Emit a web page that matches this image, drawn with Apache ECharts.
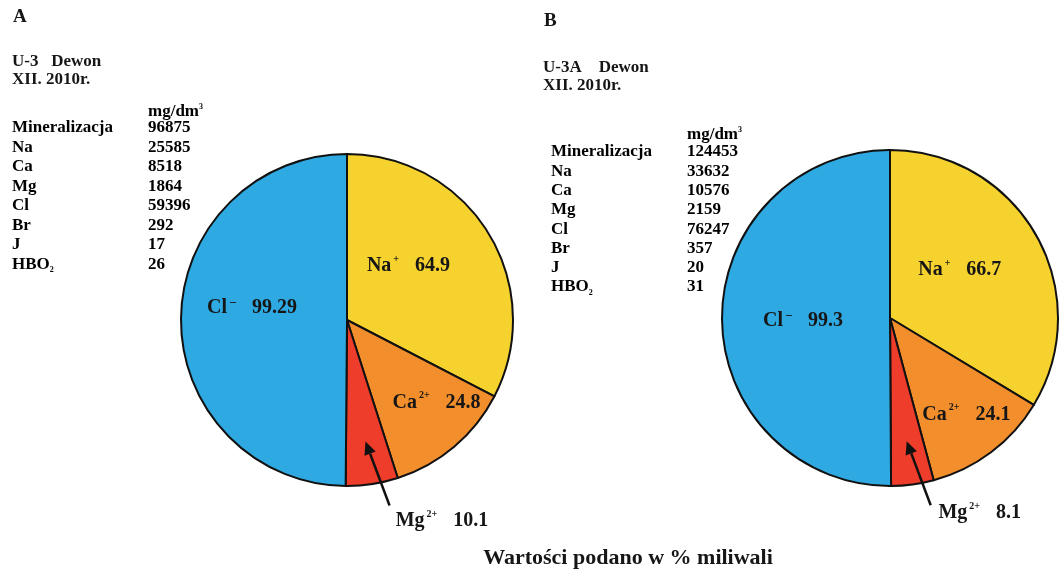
<!DOCTYPE html>
<html>
<head>
<meta charset="utf-8">
<script src="https://cdn.jsdelivr.net/npm/echarts@6/dist/echarts.min.js"></script>
<style>
  html, body { margin: 0; padding: 0; background: #ffffff; }
  #chart { width: 1059px; height: 571px; }
</style>
</head>
<body>
<div id="chart"></div>
<script>
// Ion composition (% milliequivalents) for the two wells
const ions = ['Na', 'Ca', 'Mg', 'Cl'];
const charges = ['+', '2+', '2+', '–'];
const milliValA = [64.9, 24.8, 10.1, 99.29];
const milliValB = [66.7, 24.1, 8.1, 99.3];

// Chemical analysis tables (mg/dm3)
const paramNames = ['Mineralizacja', 'Na', 'Ca', 'Mg', 'Cl', 'Br', 'J', 'HBO'];
const paramSubs = ['', '', '', '', '', '', '', '2'];
const concA = [96875, 25585, 8518, 1864, 59396, 292, 17, 26];
const concB = [124453, 33632, 10576, 2159, 76247, 357, 20, 31];

const panelLetters = ['A', 'B'];
const wellNames = ['U-3   Dewon', 'U-3A    Dewon'];
const dates = ['XII. 2010r.', 'XII. 2010r.'];
const unitLabel = 'mg/dm';
const footnote = 'Wartości podano w % miliwali';

const SERIF = '"Liberation Serif", "Times New Roman", serif';
const INK = '#161616';
const sliceColors = ['#f6d22f', '#f28f2c', '#ee3d2b', '#2fa9e1'];

const pieA = { center: [347, 320], radius: 166 };
const pieB = { center: [890, 318], radius: 168 };

const chart = echarts.init(document.getElementById('chart'), null, { renderer: 'canvas' });

// per-slice label nudges (dx, dy) relative to the default inside position
const labelNudgeA = [[-12, -9], [34, 17], [82, 116], [-9, -12]];
const labelNudgeB = [[-6, -5], [24, 27], [78, 109], [0, 3]];

const rich = {
  ion: { fontFamily: SERIF, fontWeight: 'bold', fontSize: 20, lineHeight: 24, color: INK },
  sup: { fontFamily: SERIF, fontWeight: 'bold', fontSize: 10, lineHeight: 12, verticalAlign: 'top', color: INK, padding: [0, 0, 0, 2] },
  supm: { fontFamily: SERIF, fontWeight: 'bold', fontSize: 12, lineHeight: 7, verticalAlign: 'top', color: INK, padding: [0, 0, 0, 3] },
  gap: { width: 16 },
  val: { fontFamily: SERIF, fontWeight: 'bold', fontSize: 20, lineHeight: 24, color: INK }
};

function pieSeries(vals, pie, nudges) {
  return {
    type: 'pie',
    center: pie.center,
    radius: pie.radius,
    startAngle: 90,
    clockwise: true,
    avoidLabelOverlap: false,
    silent: true,
    animation: false,
    itemStyle: { borderColor: '#111111', borderWidth: 2 },
    label: {
      show: true,
      position: 'inside',
      formatter: function (p) {
        const i = p.dataIndex;
        const supKey = charges[i] === '–' ? 'supm' : 'sup';
        return '{ion|' + ions[i] + '}{' + supKey + '|' + charges[i] + '}{gap|}{val|' + p.value + '}';
      },
      rich: rich
    },
    labelLine: { show: false },
    labelLayout: function (p) {
      const n = nudges[p.dataIndex];
      return { dx: n[0], dy: n[1] };
    },
    emphasis: { disabled: true },
    data: vals.map(function (v, i) {
      return { name: ions[i], value: v, itemStyle: { color: sliceColors[i] } };
    })
  };
}

function textEl(x, y, text, size, align) {
  return {
    type: 'text',
    silent: true,
    style: {
      x: x, y: y, text: text,
      font: 'bold ' + size + 'px ' + SERIF,
      fill: INK,
      textAlign: align || 'left',
      textVerticalAlign: 'middle'
    }
  };
}

function richTextEl(x, y, text, richStyles) {
  return {
    type: 'text',
    silent: true,
    style: { x: x, y: y, text: text, rich: richStyles, textVerticalAlign: 'middle' }
  };
}

const tableRich = {
  t: { fontFamily: SERIF, fontWeight: 'bold', fontSize: 17, lineHeight: 19, color: INK },
  sup: { fontFamily: SERIF, fontWeight: 'bold', fontSize: 8, lineHeight: 9, verticalAlign: 'top', color: INK },
  sub: { fontFamily: SERIF, fontWeight: 'bold', fontSize: 8, lineHeight: 7, verticalAlign: 'bottom', color: INK }
};

function panelText(p, xHead, xRow, xVal, yLetter, yWell, yDate, yUnit, yRow0, rowStep, conc) {
  const els = [];
  els.push(textEl(xHead + 1, yLetter, panelLetters[p], 19));
  els.push(textEl(xHead, yWell, wellNames[p], 17));
  els.push(textEl(xHead, yDate, dates[p], 17));
  els.push(richTextEl(xVal, yUnit, '{t|' + unitLabel + '}{sup|3}', tableRich));
  paramNames.forEach(function (name, i) {
    const y = yRow0 + i * rowStep;
    const label = paramSubs[i] ? '{t|' + name + '}{sub|' + paramSubs[i] + '}' : '{t|' + name + '}';
    els.push(richTextEl(xRow, y, label, tableRich));
    els.push(richTextEl(xVal, y, '{t|' + conc[i] + '}', tableRich));
  });
  return els;
}

// Arrow from the Mg label into the Mg slice, following the pie's own angular layout
function mgArrow(vals, pie) {
  const total = vals.reduce(function (a, b) { return a + b; }, 0);
  const start = -Math.PI / 2 + (vals[0] + vals[1]) / total * Math.PI * 2;
  const end = start + vals[2] / total * Math.PI * 2;
  const a = (start + end) / 2;
  const r = pie.radius;
  const tip = [pie.center[0] + Math.cos(a) * r * 0.74, pie.center[1] + Math.sin(a) * r * 0.74];
  const tail = [tip[0] + 24, tip[1] + 64];
  const dx = tip[0] - tail[0], dy = tip[1] - tail[1];
  const len = Math.sqrt(dx * dx + dy * dy);
  const ux = dx / len, uy = dy / len;
  const base = [tip[0] - ux * 13, tip[1] - uy * 13];
  const nx = -uy, ny = ux;
  return [
    { type: 'line', silent: true, z: 100, shape: { x1: tail[0], y1: tail[1], x2: base[0], y2: base[1] },
      style: { stroke: '#111111', lineWidth: 2.5 } },
    { type: 'polygon', silent: true, z: 100,
      shape: { points: [tip, [base[0] + nx * 6, base[1] + ny * 6], [base[0] - nx * 6, base[1] - ny * 6]] },
      style: { fill: '#111111' } }
  ];
}

const graphics = []
  .concat(panelText(0, 12, 12, 148, 17, 62, 80, 112, 128, 19.5, concA))
  .concat(panelText(1, 543, 551, 687, 21, 68, 86, 135, 152, 19.3, concB))
  .concat([textEl(628, 558, footnote, 22, 'center')])
  .concat(mgArrow(milliValA, pieA))
  .concat(mgArrow(milliValB, pieB));

chart.setOption({
  backgroundColor: '#ffffff',
  animation: false,
  series: [
    pieSeries(milliValA, pieA, labelNudgeA),
    pieSeries(milliValB, pieB, labelNudgeB)
  ],
  graphic: graphics
});
</script>
</body>
</html>
